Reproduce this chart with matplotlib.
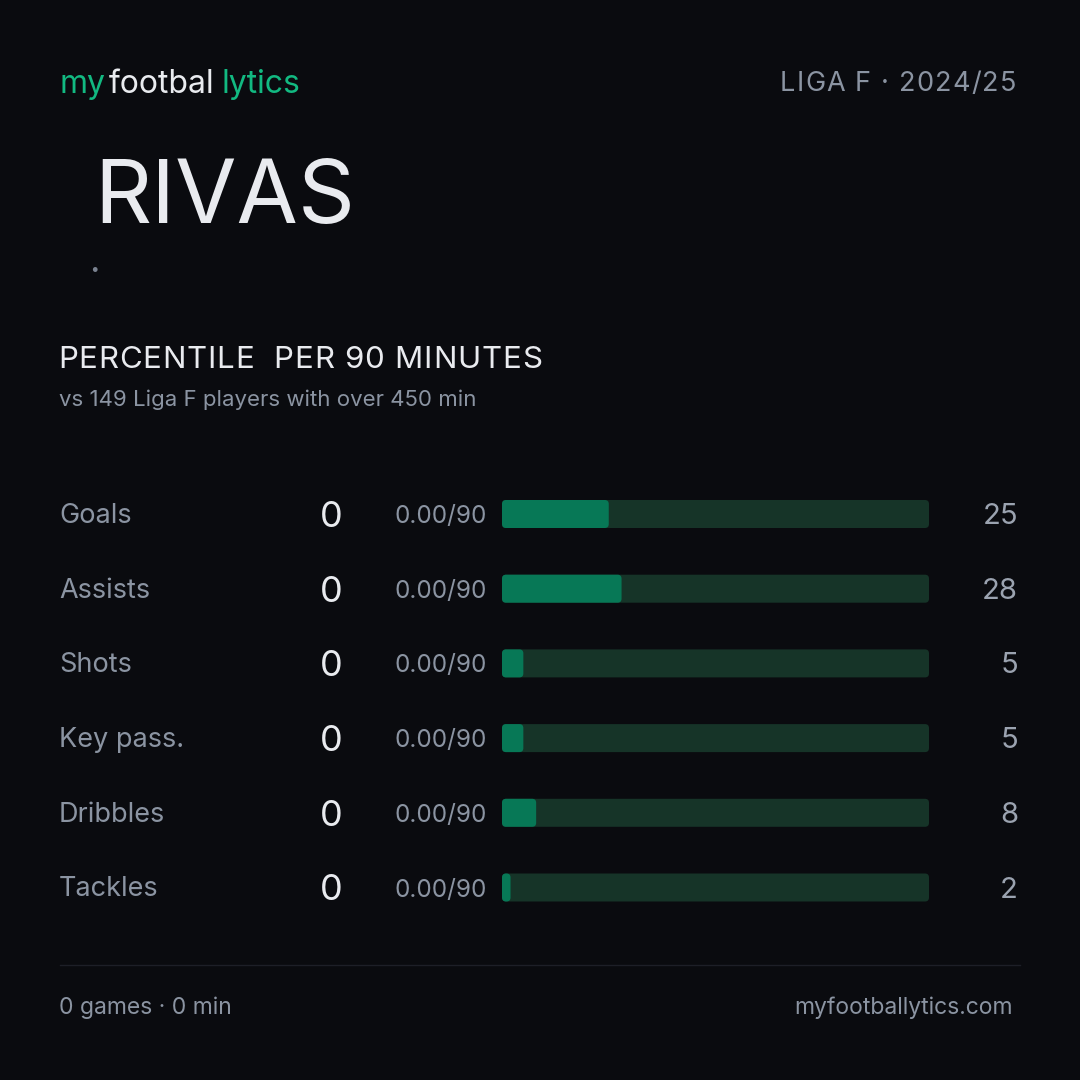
import numpy as np
import matplotlib
matplotlib.use("Agg")
from matplotlib import pyplot as plt
from matplotlib.patches import FancyBboxPatch
from matplotlib.font_manager import FontProperties

# DADOS

jogadora = "RIVAS"
liga_temporada = "LIGA F · 2024/25"
titulo = "PERCENTILE  PER 90 MINUTES"
subtitulo = "vs 149 Liga F players with over 450 min"
metricas = ["Goals", "Assists", "Shots", "Key pass.", "Dribbles", "Tackles"]
totais = [0, 0, 0, 0, 0, 0]
por90 = [0.00, 0.00, 0.00, 0.00, 0.00, 0.00]
percentis = [25, 28, 5, 5, 8, 2]
rodape_esq = "0 games · 0 min"
rodape_dir = "myfootballytics.com"

# CORES

fundo = "#0a0b0f"
branco = "#e9ebef"
cinza = "#8b94a2"
cinza_num = "#9ba3b0"
verde_logo = "#12b981"
trilho = "#163428"
preenchido = "#077856"
linha = "#1d1f27"

plt.rcParams['font.family'] = ['Inter', 'DejaVu Sans']

fig = plt.figure(figsize=(10.8, 10.8), dpi=100, facecolor=fundo)
renderer = fig.canvas.get_renderer()

# eixo de fundo em pixels
bg = fig.add_axes([0, 0, 1, 1])
bg.set_xlim(0, 1080)
bg.set_ylim(1080, 0)
bg.axis("off")
bg.set_facecolor(fundo)


def largura(s, tamanho):
    # largura em pixels do texto (matplotlib nao tem letter-spacing)
    prop = FontProperties(family=['Inter', 'DejaVu Sans'], size=tamanho)
    w, h, d = renderer.get_text_width_height_descent(s, prop, ismath=False)
    return w


def texto_espacado(x, y, s, tamanho, espaco, cor, ha="left"):
    total = largura(s, tamanho) + espaco * (len(s) - 1)
    x0 = x - total if ha == "right" else x
    for k, c in enumerate(s):
        if c == " ":
            continue
        xk = x0 + largura(s[:k + 1], tamanho) - largura(c, tamanho) + k * espaco
        bg.text(xk, y, c, color=cor, fontsize=tamanho, va="baseline", ha="left")


# cabecalho
bg.text(60, 93, "my", color=verde_logo, fontsize=23, va="baseline")
bg.text(109, 93, "footbal", color=branco, fontsize=23, va="baseline")
bg.text(222, 93, "lytics", color=verde_logo, fontsize=23, va="baseline")
texto_espacado(1016, 91, liga_temporada, 19.5, 1.2, cinza, ha="right")

bg.text(94, 223, jogadora, color=branco, fontsize=64, va="baseline")
bg.text(94, 282, "·", color="#7a8290", fontsize=26, ha="center", va="baseline")

texto_espacado(58, 368, titulo, 22.5, 0.8, branco)
bg.text(59, 406, subtitulo, color=cinza, fontsize=16, va="baseline")

# linhas da tabela
ys = 514 + 74.7 * np.arange(len(metricas))
for i, y in enumerate(ys):
    bg.text(59, y + 9, metricas[i], color=cinza, fontsize=19.5, va="baseline")
    bg.text(343, y + 13, str(totais[i]), color=branco, fontsize=26, ha="right", va="baseline")
    bg.text(487, y + 9, f"{por90[i]:.2f}/90", color=cinza, fontsize=17.5, ha="right", va="baseline")
    bg.text(1018, y + 10, str(percentis[i]), color=cinza_num, fontsize=21, ha="right", va="baseline")

# barras de percentil (x em percentil, y em pixels)
ax = fig.add_axes([502 / 1080, 0, 427 / 1080, 1])
ax.set_xlim(0, 100)
ax.set_ylim(1080, 0)
ax.axis("off")
ax.patch.set_alpha(0)
altura = 28
raio = 4 / 4.27  # 4 px em unidades de percentil
aspecto = 4.27
for i, y in enumerate(ys):
    ax.add_patch(FancyBboxPatch((0, y - altura / 2), 100, altura,
                                boxstyle=f"round,pad=0,rounding_size={raio}",
                                mutation_aspect=aspecto, fc=trilho, ec="none"))
    ax.add_patch(FancyBboxPatch((0, y - altura / 2), percentis[i], altura,
                                boxstyle=f"round,pad=0,rounding_size={raio}",
                                mutation_aspect=aspecto, fc=preenchido, ec="none"))

# rodape
bg.plot([60, 1020], [965, 965], color=linha, linewidth=1)
bg.text(59, 1014, rodape_esq, color=cinza, fontsize=16.5, va="baseline")
bg.text(1013, 1014, rodape_dir, color=cinza, fontsize=16.5, ha="right", va="baseline")

plt.savefig("out.png", dpi=100, facecolor=fundo)
plt.close()
